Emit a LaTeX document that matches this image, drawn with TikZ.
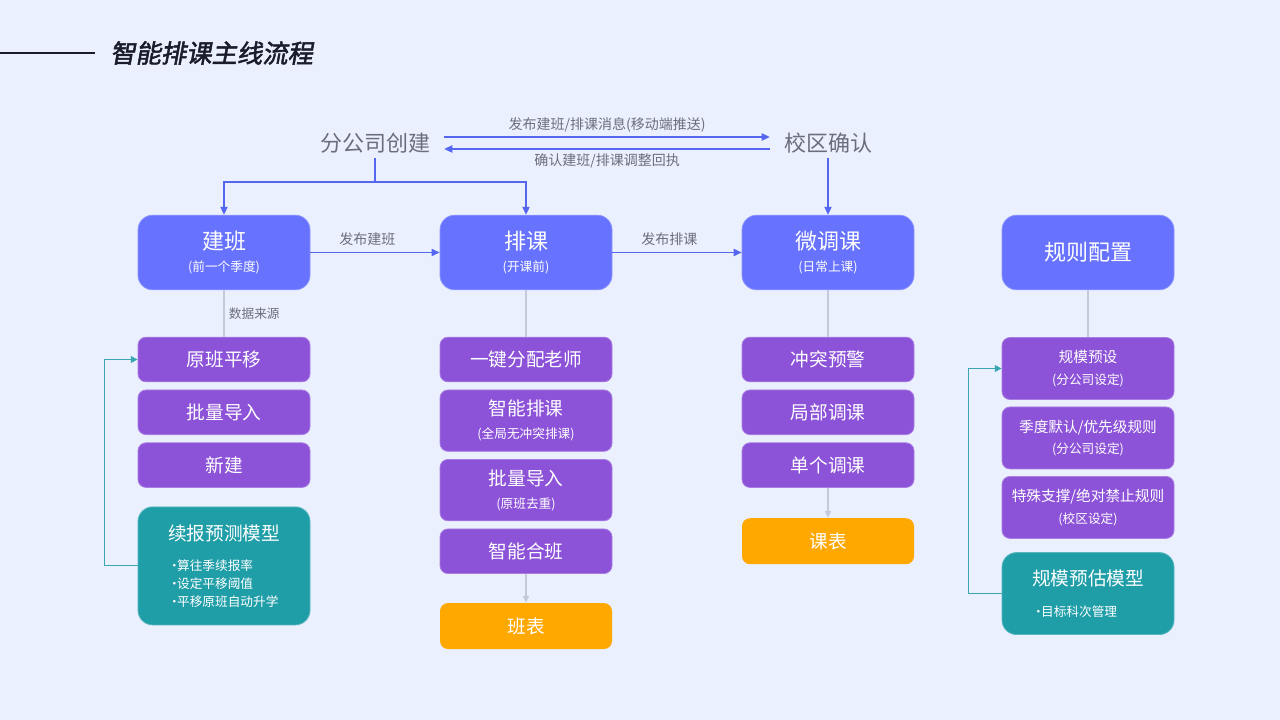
\documentclass[tikz,border=0pt]{standalone}
\usepackage{fontspec}
\setmainfont{Noto Sans CJK SC}
\newfontfamily\titlefont[FakeSlant=0.18,FakeBold=2]{Noto Sans CJK SC}
\usepackage{tikz}
\usetikzlibrary{positioning}
\usetikzlibrary{arrows.meta}

\definecolor{bgcol}{HTML}{EAF0FD}
\definecolor{bluebg}{HTML}{6772FE}
\definecolor{purplebg}{HTML}{8C52D8}
\definecolor{tealbg}{HTML}{1F9EA8}
\definecolor{orangebg}{HTML}{FFA800}
\definecolor{greytext}{HTML}{6B6E7E}
\definecolor{blueline}{HTML}{5566F0}
\definecolor{greyline}{HTML}{C3CADA}
\definecolor{tealline}{HTML}{3AA6B0}
\definecolor{darktitle}{HTML}{1A1B2B}

\newcommand{\subtxt}[1]{{\fontsize{9.5}{12}\selectfont #1}}
\newcommand{\bul}[1]{{\fontsize{9.5}{13.5}\selectfont ·\hspace{-0.28em}#1}}

\tikzset{
  box/.style={rectangle, minimum width=129pt, align=center, text=white, line width=0.6pt},
  bluebox/.style={box, fill=bluebg, draw=white!25!bluebg, rounded corners=11pt, minimum height=56pt, font=\fontsize{16.5}{19}\selectfont},
  purplebox/.style={box, fill=purplebg, draw=white!25!purplebg, rounded corners=6pt, minimum height=33.5pt, font=\fontsize{14}{17}\selectfont},
  tallbox/.style={purplebox, minimum height=46pt},
  rulebox/.style={tallbox, minimum height=46.5pt, font=\fontsize{11}{14}\selectfont},
  tealbox/.style={box, fill=tealbg, draw=white!25!tealbg, rounded corners=11pt, align=left, font=\fontsize{14}{13.5}\selectfont},
  orangebox/.style={box, fill=orangebg, rounded corners=6pt, minimum height=34.5pt, font=\fontsize{14}{17}\selectfont},
  toptext/.style={text=greytext, font=\fontsize{16.5}{19}\selectfont, inner xsep=10.5pt},
  lbl/.style={text=greytext, font=\fontsize{10.5}{12}\selectfont},
  smalllbl/.style={text=greytext, font=\fontsize{9.5}{11}\selectfont},
  flow/.style={draw=blueline, line width=0.8pt, -{Triangle[length=6pt,width=5.5pt]}},
  link/.style={draw=greyline, line width=0.8pt},
  linkarrow/.style={link, -{Triangle[length=5pt,width=4.5pt]}},
  back/.style={draw=tealline, line width=0.8pt, -{Triangle[length=5pt,width=5pt]}},
}

\begin{document}
\begin{tikzpicture}[x=0.75pt,y=-0.75pt]
   \fill[bgcol] (0,0) rectangle (1280,720);
   \useasboundingbox (0,0) rectangle (1280,720);

   % title
   \node[anchor=west, inner xsep=0pt, text=darktitle, font=\titlefont\fontsize{19}{22}\selectfont] (title) at (110,53) {智能排课主线流程};
   \coordinate (lstart) at (0,53);
   \draw[darktitle, line width=1pt] (lstart) -- ([xshift=-11.25pt]title.west);

   % top
   \node[toptext] (fgs) at (375,143) {分公司创建};
   \node[toptext] (xq) at (828,143) {校区确认};

   % main row
   \node[bluebox] (jb) at (224,252.5) {建班\\[-2pt]\subtxt{(前一个季度)}};
   \node[bluebox] (pk) at (526,252.5) {排课\\[-2pt]\subtxt{(开课前)}};
   \node[bluebox] (wt) at (828,252.5) {微调课\\[-2pt]\subtxt{(日常上课)}};
   \node[bluebox] (gz) at (1088,252.5) {规则配置};

   % column 1
   \node[purplebox] (ybpy) at (224,359.5) {原班平移};
   \node[purplebox] (pldr) [below=5.5pt of ybpy] {批量导入};
   \node[purplebox] (xj) [below=5.5pt of pldr] {新建};
   \node[tealbox, minimum height=88.5pt] (xbyc) [below=14pt of xj] {续报预测模型\\[9pt]\bul{算往季续报率}\\\bul{设定平移阈值}\\\bul{平移原班自动升学}};

   % column 2
   \node[purplebox] (yjfp) at (526,359.5) {一键分配老师};
   \node[tallbox] (znpk) [below=5.5pt of yjfp] {智能排课\\[0pt]\subtxt{(全局无冲突排课)}};
   \node[tallbox] (pldr2) [below=5.5pt of znpk] {批量导入\\[0pt]\subtxt{(原班去重)}};
   \node[purplebox] (znhb) [below=5.5pt of pldr2] {智能合班};
   \node[orangebox] (bb) [below=21.5pt of znhb] {班表};

   % column 3
   \node[purplebox] (ctyj) at (828,359.5) {冲突预警};
   \node[purplebox] (jbtk) [below=5.5pt of ctyj] {局部调课};
   \node[purplebox] (dgtk) [below=5.5pt of jbtk] {单个调课};
   \node[orangebox] (kb) [below=22.5pt of dgtk] {课表};

   % column 4
   \node[rulebox] (gmys) at (1088,368.5) {规模预设\\[2pt]\subtxt{(分公司设定)}};
   \node[rulebox] (jdmr) [below=5pt of gmys] {季度默认/优先级规则\\[2pt]\subtxt{(分公司设定)}};
   \node[rulebox] (tszc) [below=5pt of jdmr] {特殊支撑/绝对禁止规则\\[2pt]\subtxt{(校区设定)}};
   \node[tealbox, minimum height=61.5pt] (gmyg) [below=10pt of tszc] {规模预估模型\\[9.5pt]\bul{目标科次管理}};

   % connectors
   \coordinate (fork) at (375,182);
   \draw[draw=blueline, line width=0.8pt] (fgs.south) -- (fork);
   \draw[flow] (fork) -| (jb.north);
   \draw[flow] (fork) -| (pk.north);
   \draw[flow] (xq) -- (wt);
   \draw[flow] ([yshift=4.5pt]fgs.east) -- node[lbl, above] {发布建班/排课消息(移动端推送)} ([yshift=4.5pt]xq.west);
   \draw[flow] ([yshift=-4.5pt]xq.west) -- node[lbl, below] {确认建班/排课调整回执} ([yshift=-4.5pt]fgs.east);
   \draw[flow] (jb) -- node[lbl, above, pos=0.44, yshift=1.5pt] {发布建班} (pk);
   \draw[flow] (pk) -- node[lbl, above, pos=0.44, yshift=1.5pt] {发布排课} (wt);

   \draw[link] (jb) -- node[smalllbl, right, pos=0.5] {数据来源} (ybpy);
   \draw[link] (pk) -- (yjfp);
   \draw[link] (wt) -- (ctyj);
   \draw[link] (gz) -- (gmys);
   \draw[linkarrow] (znhb) -- (bb);
   \draw[linkarrow] (dgtk) -- (kb);

   \draw[back] (xbyc.west) -- ++(-33,0) |- (ybpy.west);
   \draw[back] (gmyg.west) -- ++(-33,0) |- (gmys.west);
\end{tikzpicture}
\end{document}
